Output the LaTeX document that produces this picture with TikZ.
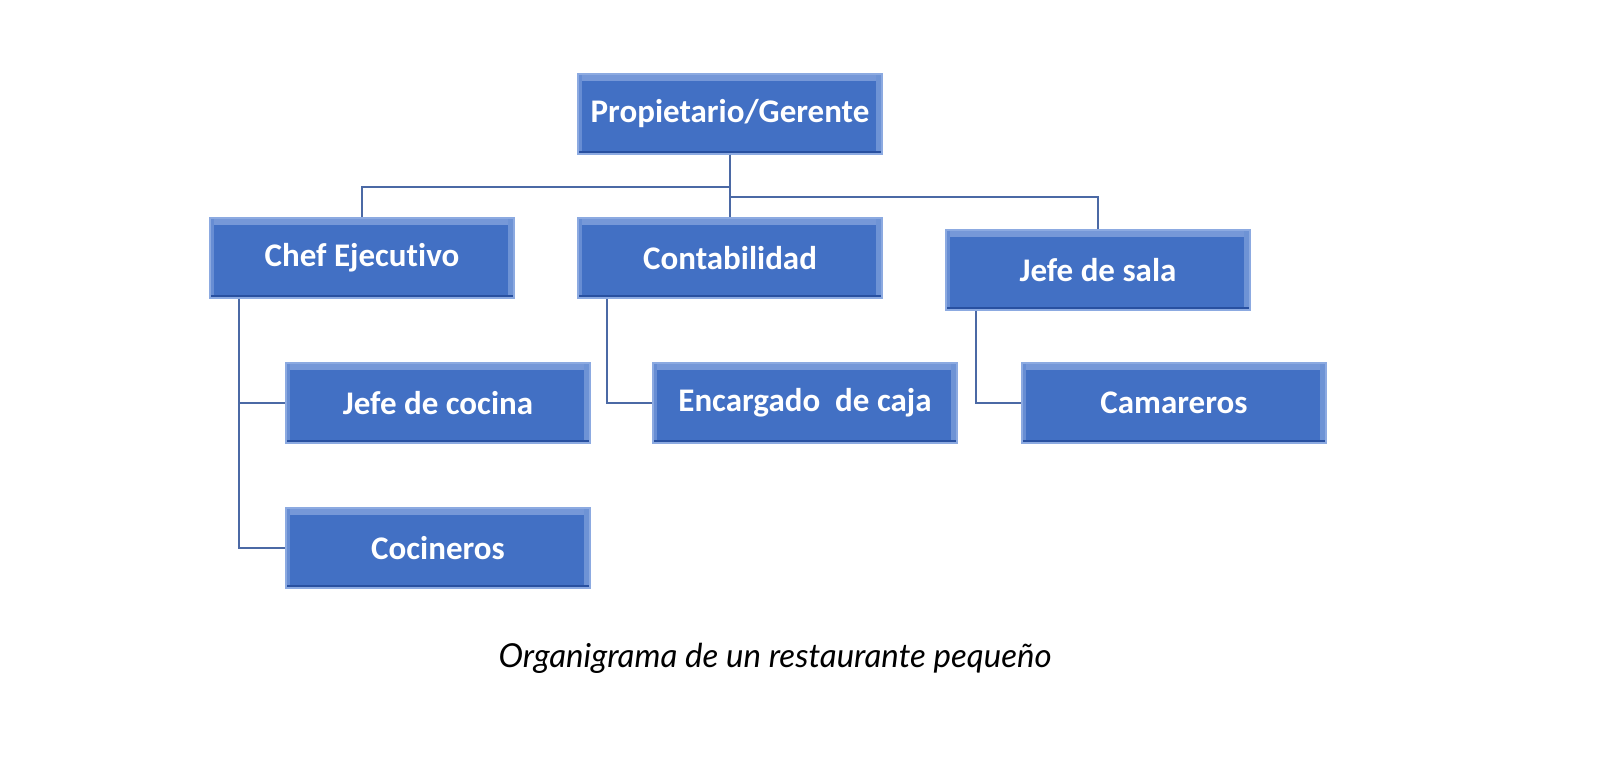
\documentclass[tikz,border=0pt]{standalone}
\usepackage{fontspec}
\setmainfont{Lato}
\newfontfamily\boxfont[Ligatures=NoCommon]{Carlito}
\usepackage{tikz}
\definecolor{org_blue}{RGB}{66, 112, 196}
\definecolor{org_light}{RGB}{140, 170, 225}
\definecolor{org_dark}{RGB}{40, 80, 160}
\definecolor{org_line}{RGB}{75, 105, 165}
\tikzstyle{orgbox}=[rectangle,fill=org_blue,draw=org_light,line width=1.5pt,
  inner sep=0pt,minimum width=304pt,minimum height=80pt,text=white,
  font=\boxfont\bfseries\fontsize{33}{36}\selectfont,
  path picture={
    \fill[org_light!70!org_blue] (path picture bounding box.north west) rectangle ([yshift=-7pt]path picture bounding box.north east);
    \fill[org_light!50!org_blue] (path picture bounding box.north west) rectangle ([xshift=4pt]path picture bounding box.south west);
    \fill[org_light!60!org_blue] (path picture bounding box.north east) rectangle ([xshift=-6pt]path picture bounding box.south east);
    \fill[org_dark] (path picture bounding box.south west) rectangle ([yshift=3pt]path picture bounding box.south east);
  }]
\tikzstyle{link}=[draw=org_line,line width=2pt]

\begin{document}
\begin{tikzpicture}[x=1pt,y=-1pt]
        \useasboundingbox (0,0) rectangle (1616,762);
        \node [style=orgbox] (pg) at (730,114) {Propietario/Gerente};
        \node [style=orgbox] (chef) at (362,258) {Chef Ejecutivo};
        \node [style=orgbox] (conta) at (730,258) {Contabilidad};
        \node [style=orgbox] (sala) at (1098,270) {Jefe de sala};
        \node [style=orgbox] (cocina) at (438,403) {Jefe de cocina};
        \node [style=orgbox] (caja) at (805,403) {Encargado\ \ de caja};
        \node [style=orgbox] (cam) at (1174,403) {Camareros};
        \node [style=orgbox] (coc) at (438,548) {Cocineros};
        \node [font=\itshape\fontsize{33}{36}\selectfont] (cap) at (775,658) {Organigrama de un restaurante pequeño};
        \draw [style=link] (pg.south) -- (conta.north);
        \draw [style=link] (pg.south) -- ++(0,32) -| (chef.north);
        \draw [style=link] (pg.south) -- ++(0,42) -| (sala.north);
        \draw [style=link] ([xshift=30pt]chef.south west) |- (cocina.west);
        \draw [style=link] ([xshift=30pt]chef.south west) |- (coc.west);
        \draw [style=link] ([xshift=30pt]conta.south west) |- (caja.west);
        \draw [style=link] ([xshift=31pt]sala.south west) |- (cam.west);
    \end{tikzpicture}
\end{document}
